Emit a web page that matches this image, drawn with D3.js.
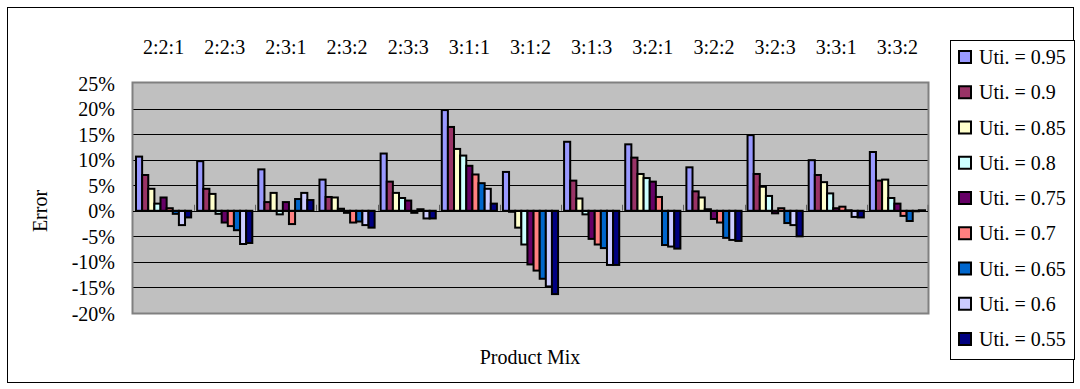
<!DOCTYPE html>
<html>
<head>
<meta charset="utf-8">
<script src="https://cdn.jsdelivr.net/npm/d3@7"></script>
<style>
  html, body { margin: 0; padding: 0; background: #fff; }
  svg { display: block; }
  text { font-family: "Liberation Serif", "DejaVu Serif", serif; fill: #000; }
</style>
</head>
<body>
<svg id="chart" width="1080" height="389"></svg>
<script>
// Product mix categories (x axis, labels on top)
const categories = ["2:2:1", "2:2:3", "2:3:1", "2:3:2", "2:3:3", "3:1:1", "3:1:2",
                    "3:1:3", "3:2:1", "3:2:2", "3:2:3", "3:3:1", "3:3:2"];

// Utilisation levels (series)
const seriesNames = ["Uti. = 0.95", "Uti. = 0.9", "Uti. = 0.85", "Uti. = 0.8", "Uti. = 0.75",
                     "Uti. = 0.7", "Uti. = 0.65", "Uti. = 0.6", "Uti. = 0.55"];
const seriesColors = ["#9999FF", "#993366", "#FFFFCC", "#CCFFFF", "#660066",
                      "#FF8080", "#0066CC", "#CCCCFF", "#000080"];

// Error (%) per series, one value per product mix
const uti095 = [10.6, 9.7, 8.1, 6.1, 11.2, 19.7, 7.6, 13.5, 13.0, 8.5, 14.8, 9.9, 11.5];
const uti090 = [7.0, 4.3, 1.7, 2.7, 5.7, 16.4, -0.2, 5.9, 10.4, 3.8, 7.2, 7.0, 5.9];
const uti085 = [4.3, 3.3, 3.5, 2.6, 3.5, 12.1, -3.3, 2.4, 7.2, 2.6, 4.7, 5.6, 6.1];
const uti080 = [1.4, -0.6, -0.7, 0.4, 2.5, 10.8, -6.6, -0.7, 6.4, 0.3, 2.9, 3.4, 2.5];
const uti075 = [2.6, -2.3, 1.7, -0.4, 2.0, 8.8, -10.5, -5.5, 5.7, -1.6, -0.5, 0.5, 1.4];
const uti070 = [0.5, -3.0, -2.6, -2.3, -0.4, 7.1, -11.7, -6.6, 2.7, -2.3, 0.5, 0.8, -1.0];
const uti065 = [-0.6, -3.8, 2.3, -2.1, 0.3, 5.4, -13.3, -7.3, -6.7, -5.3, -2.4, 0.1, -2.0];
const uti060 = [-2.8, -6.5, 3.5, -2.8, -1.5, 4.3, -14.8, -10.6, -7.0, -5.7, -2.8, -1.2, -0.1];
const uti055 = [-1.3, -6.3, 2.1, -3.3, -1.5, 1.4, -16.3, -10.6, -7.4, -5.9, -5.0, -1.3, 0.1];

const seriesValues = [uti095, uti090, uti085, uti080, uti075, uti070, uti065, uti060, uti055];

const yTicks = [25, 20, 15, 10, 5, 0, -5, -10, -15, -20];

const svg = d3.select("#chart");

// Outer chart frame
svg.append("rect")
  .attr("x", 7.5).attr("y", 7.5).attr("width", 1066).attr("height", 375)
  .attr("fill", "#fff").attr("stroke", "#000").attr("stroke-width", 1);

// Plot area
const plot = { left: 133, right: 928, top: 83, bottom: 313 };

const x0 = d3.scaleBand().domain(categories).range([plot.left, plot.right]).padding(0);
const x1 = d3.scaleBand().domain(d3.range(seriesNames.length))
  .range([3, x0.bandwidth() - 3]).padding(0);
const y = d3.scaleLinear().domain([-20, 25]).range([plot.bottom, plot.top]);

svg.append("rect")
  .attr("x", plot.left).attr("y", plot.top)
  .attr("width", plot.right - plot.left).attr("height", plot.bottom - plot.top)
  .attr("fill", "#C0C0C0");

// Horizontal gridlines
svg.append("g")
  .selectAll("line")
  .data(yTicks.filter(t => t !== 25 && t !== -20))
  .join("line")
  .attr("x1", plot.left).attr("x2", plot.right)
  .attr("y1", d => Math.round(y(d)) + 0.5).attr("y2", d => Math.round(y(d)) + 0.5)
  .attr("stroke", "#000").attr("stroke-width", 1);

// Plot area border
svg.append("rect")
  .attr("x", plot.left - 0.5).attr("y", plot.top - 0.5)
  .attr("width", plot.right - plot.left + 1).attr("height", plot.bottom - plot.top + 1)
  .attr("fill", "none").attr("stroke", "#808080").attr("stroke-width", 2);

// Y axis labels
const yAxis = d3.axisLeft(y).tickValues(yTicks).tickFormat(d => d + "%").tickSize(0).tickPadding(0);
const yg = svg.append("g").attr("transform", `translate(115,0)`).call(yAxis);
yg.select(".domain").remove();
yg.selectAll("text")
  .style("font-family", '"Liberation Serif", serif')
  .style("font-size", "20px").attr("fill", "#000").attr("dy", "0.35em");

// Category labels along the top
const xAxis = d3.axisTop(x0).tickSize(0).tickPadding(0);
const xg = svg.append("g").attr("transform", `translate(0,54)`).call(xAxis);
xg.select(".domain").remove();
xg.selectAll("text")
  .style("font-family", '"Liberation Serif", serif')
  .style("font-size", "20px").attr("fill", "#000").attr("dy", "0");

// Bars
const zeroY = y(0);
const groups = svg.append("g")
  .selectAll("g")
  .data(categories)
  .join("g")
  .attr("transform", d => `translate(${x0(d)},0)`);

groups.selectAll("rect")
  .data((c, ci) => seriesValues.map((vals, si) => ({ si, v: vals[ci] })))
  .join("rect")
  .attr("x", d => x1(d.si))
  .attr("width", x1.bandwidth())
  .attr("y", d => y(Math.max(0, d.v)))
  .attr("height", d => Math.abs(y(d.v) - zeroY))
  .attr("fill", d => seriesColors[d.si])
  .attr("stroke", "#000").attr("stroke-width", 2)
  .attr("stroke-linejoin", "miter");

// Category axis at zero with tick marks between groups
svg.append("line")
  .attr("x1", plot.left).attr("x2", plot.right)
  .attr("y1", Math.round(zeroY) + 0.5).attr("y2", Math.round(zeroY) + 0.5)
  .attr("stroke", "#000").attr("stroke-width", 1);
svg.append("g")
  .selectAll("line")
  .data(categories.slice(1).concat(["__end"]))
  .join("line")
  .attr("x1", d => d === "__end" ? plot.right : Math.round(x0(d)) + 0.5)
  .attr("x2", d => d === "__end" ? plot.right : Math.round(x0(d)) + 0.5)
  .attr("y1", zeroY - 6).attr("y2", zeroY)
  .attr("stroke", "#606060").attr("stroke-width", 1);

// Axis titles
svg.append("text")
  .attr("transform", `translate(47,211) rotate(-90)`)
  .attr("text-anchor", "middle")
  .style("font-size", "20px")
  .text("Error");

svg.append("text")
  .attr("x", 530).attr("y", 364)
  .attr("text-anchor", "middle")
  .style("font-size", "20px")
  .text("Product Mix");

// Legend
const legend = svg.append("g");
legend.append("rect")
  .attr("x", 950.5).attr("y", 40.5).attr("width", 124).attr("height", 319)
  .attr("fill", "#fff").attr("stroke", "#000").attr("stroke-width", 1);

const legendY = d3.scalePoint().domain(seriesNames).range([57, 339]);
const items = legend.selectAll("g.item")
  .data(seriesNames)
  .join("g")
  .attr("class", "item")
  .attr("transform", d => `translate(0,${legendY(d)})`);
items.append("rect")
  .attr("x", 959).attr("y", -6).attr("width", 12).attr("height", 12)
  .attr("fill", (d, i) => seriesColors[i])
  .attr("stroke", "#000").attr("stroke-width", 2);
items.append("text")
  .attr("x", 979).attr("y", 0).attr("dy", "0.35em")
  .style("font-size", "20px")
  .text(d => d);
</script>
</body>
</html>
